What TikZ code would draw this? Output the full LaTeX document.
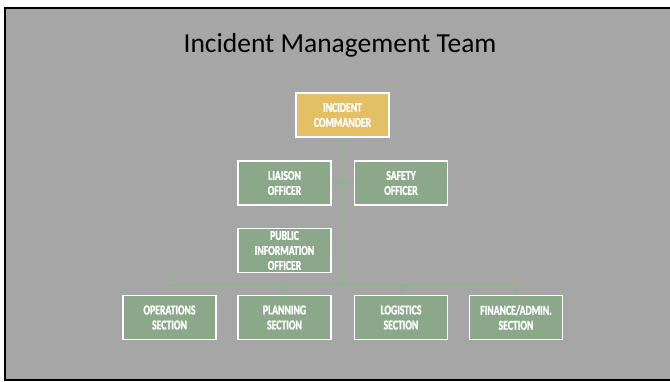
\documentclass[tikz,border=0pt]{standalone}
\usepackage{fontspec}
\setmainfont{Carlito}
\newfontfamily\boxfont[FakeStretch=0.72, BoldFont={Carlito Bold}, BoldFeatures={FakeStretch=0.72, FakeBold=1.5}]{Carlito}
\usepackage{tikz}
\usetikzlibrary{calc}
\definecolor{slide}{HTML}{A6A6A6}
\definecolor{boxgreen}{HTML}{8BA98A}
\definecolor{boxgold}{HTML}{E3BF66}
\definecolor{linkgreen}{HTML}{8DB58D}

\begin{document}
\begin{tikzpicture}[x=1pt,y=-1pt]
    \tikzstyle{every node}=[font=\boxfont\bfseries\fontsize{13.5}{15}\selectfont, text=white, align=center]
    \tikzstyle{unit}=[draw=white, line width=1.6pt, fill=boxgreen, minimum width=93pt, minimum height=44pt, inner sep=0pt]
    \tikzstyle{link}=[linkgreen, line width=1.4pt]
    \useasboundingbox (0,0) rectangle (670,382);
    \fill[white] (0,0) rectangle (670,382);
    \filldraw[fill=slide, draw=black, line width=2pt] (5,8.5) rectangle (675,380);

    \node[font=\fontsize{27.5}{30}\selectfont, text=black] (title) at (340,45) {Incident Management Team};

    \node[unit, fill=boxgold] (cmd) at (342.5,115) {INCIDENT\\COMMANDER};
    \node[unit] (lia) at (284.5,183) {LIAISON\\OFFICER};
    \node[unit] (saf) at (401,183) {SAFETY\\OFFICER};
    \node[unit] (pio) at (284.5,250.5) {PUBLIC\\INFORMATION\\OFFICER};
    \node[unit] (ops) at (169.5,317.5) {OPERATIONS\\SECTION};
    \node[unit] (pln) at (284.5,317.5) {PLANNING\\SECTION};
    \node[unit] (lgs) at (401,317.5) {LOGISTICS\\SECTION};
    \node[unit] (fin) at (516,317.5) {FINANCE/ADMIN.\\SECTION};

    \coordinate (bus) at (342.5,285);
    \draw[link] (cmd.south) -- (bus);
    \draw[link] (lia.east) -- (saf.west);
    \draw[link] (pio.east) -- (pio.east -| bus);
    \draw[link] (ops.north) |- (bus);
    \draw[link] (fin.north) |- (bus);
    \draw[link] (pln.north) -- (pln.north |- bus);
    \draw[link] (lgs.north) -- (lgs.north |- bus);
\end{tikzpicture}
\end{document}
